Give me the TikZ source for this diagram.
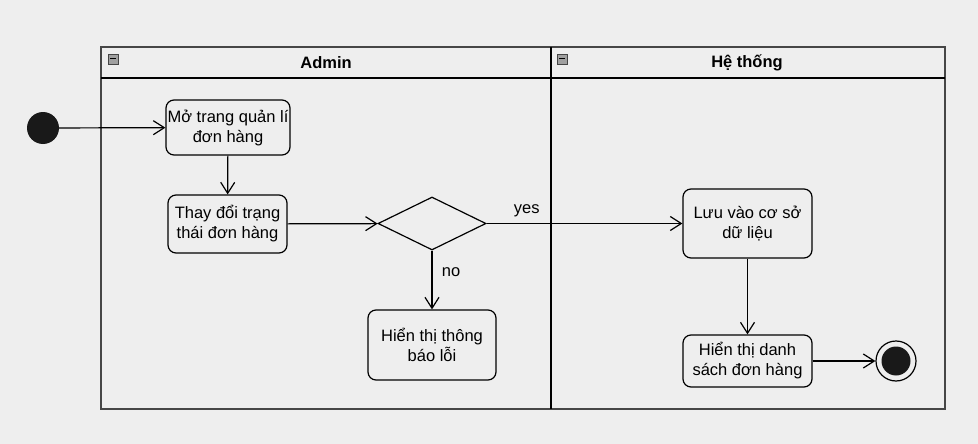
\documentclass[tikz,border=0pt]{standalone}
\usepackage{fontspec}
\setmainfont{Liberation Sans}
\usetikzlibrary{arrows.meta,shapes.geometric}
\definecolor{bg}{RGB}{238,238,238}
\definecolor{frame}{RGB}{70,70,70}
\definecolor{icon}{RGB}{160,160,160}
\tikzset{
  act/.style={draw=black, line width=1.2pt, rounded corners=8pt, fill=bg, align=center,
    font=\fontsize{16.5}{20}\selectfont, inner sep=0pt},
  flow/.style={draw=black, line width=1.2pt, -{Straight Barb[length=11pt,width=14pt,line width=1.2pt]}},
  lbl/.style={font=\fontsize{16.5}{20}\selectfont},
  hdr/.style={font=\bfseries\fontsize{16.5}{20}\selectfont}
}
\begin{document}
\begin{tikzpicture}[x=1pt,y=-1pt]
\useasboundingbox (0,0) rectangle (978,444);
\fill[bg] (0,0) rectangle (978,444);
% swimlanes
\draw[frame, line width=1.3pt] (101,47) rectangle (945,409);
\draw[black, line width=1.3pt] (101,78) -- (945,78);
\draw[black, line width=1.5pt] (551,47) -- (551,409);
\foreach \ix in {108,557}{
  \draw[frame, fill=icon, line width=0.6pt] (\ix,54) rectangle ++(10,10);
  \draw[black, line width=1pt] (\ix+2,59) -- (\ix+8,59);
}
\node[hdr] (hA) at (326,63) {Admin};
\node[hdr] (hB) at (747,63) {Hệ thống};
% nodes
\node[circle, fill=black!90, minimum size=32pt, inner sep=0pt] (start) at (43,128) {};
\node[act, minimum width=124pt, minimum height=55pt] (n1) at (228,127.5) {Mở trang quản lí\\đơn hàng};
\node[act, minimum width=119pt, minimum height=58pt] (n2) at (227.5,224) {Thay đổi trạng\\thái đơn hàng};
\node[diamond, draw=black, line width=1.2pt, fill=bg, minimum width=108pt, minimum height=53pt, inner sep=0pt] (d) at (432,223.5) {};
\node[act, minimum width=128pt, minimum height=70pt] (n3) at (432,345) {Hiển thị thông\\báo lỗi};
\node[act, minimum width=129pt, minimum height=69pt] (n4) at (747.5,223.5) {Lưu vào cơ sở\\dữ liệu};
\node[act, minimum width=129pt, minimum height=52pt] (n5) at (747.5,361) {Hiển thị danh\\sách đơn hàng};
\node[circle, draw=black, line width=1.2pt, fill=bg, minimum size=40pt, inner sep=0pt] (end) at (896,361) {};
\node[circle, fill=black!90, minimum size=29pt, inner sep=0pt] (endin) at (896,361) {};
% flows
\draw[flow] (start) -- (n1);
\draw[flow] (n1) -- (n2);
\draw[flow] (n2) -- (d);
\draw[flow] (d) -- node[lbl, pos=0.205, above=3pt] (yes) {yes} (n4);
\draw[flow] (d) -- node[lbl, pos=0.37, right=6pt] (no) {no} (n3);
\draw[flow] (n4) -- (n5);
\draw[flow] (n5) -- (end);
\end{tikzpicture}
\end{document}
